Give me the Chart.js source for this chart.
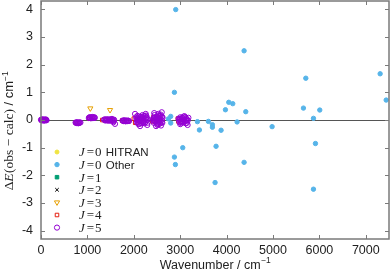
<!DOCTYPE html>
<html>
<head>
<meta charset="utf-8">
<script src="https://cdn.jsdelivr.net/npm/chart.js@4.4.1/dist/chart.umd.min.js"></script>
<style>
  html, body { margin: 0; padding: 0; background: #fff; }
  #wrap { width: 390px; height: 272px; }
</style>
</head>
<body>
<div id="wrap"><canvas id="chart" width="390" height="272"></canvas></div>
<script>
// axis ticks
const xTicks = [0, 1000, 2000, 3000, 4000, 5000, 6000, 7000];
const yTicks = [-4, -3, -2, -1, 0, 1, 2, 3, 4];

// J = 0 Other (blue dots)
const otherWn  = [2904, 2875, 2796, 2745, 2796, 3055, 2875, 2896, 3371, 3414, 3608, 3694, 3694, 3773, 3752, 3881,
                  3975, 4047, 4133, 4226, 4377, 4413, 4377, 4981, 5656, 5707, 5872, 5915, 5872, 6008, 7309, 7439];
const otherDev = [3.99, 1.00, 0.13, 0.04, -0.11, -1.00, -1.34, -1.61, -0.06, -0.36, -0.05, -0.17, -0.26, -0.95, -2.26, -0.37,
                  0.37, 0.64, 0.59, -0.07, 2.50, 0.30, -1.53, -0.24, 0.43, 1.51, 0.06, -0.85, -2.50, 0.36, 1.67, 0.72];

// J = 0 HITRAN (yellow, hidden under the clusters)
const hitranWn  = [1100, 2200, 2450, 3000];
const hitranDev = [0.08, 0.05, 0.00, 0.00];

// J = 1 (green)
const j1Wn  = [2100, 2500, 3050];
const j1Dev = [0.05, -0.05, 0.00];

// J = 2 (black)
const j2Wn  = [1800, 2150, 2550];
const j2Dev = [0.00, 0.00, 0.00];

// J = 3 (orange)
const j3Wn  = [1063, 1488, 2200, 2500];
const j3Dev = [0.42, 0.36, 0.00, 0.10];

// J = 4 (red)
const j4Wn  = [10, 750, 1040, 1320, 1750, 2000, 2030, 2400, 2420, 2950, 2960];
const j4Dev = [0.00, -0.10, 0.05, 0.00, -0.02, 0.05, -0.10, -0.05, 0.10, 0.05, -0.05];

// J = 5 (purple)
const j5Wn  = [0, 8, 15, 22, 30, 38, 45, 52, 60, 68, 75, 82, 90, 98, 105, 112, 120,
               745, 755, 765, 775, 785, 795, 805, 815, 825, 835, 850,
               1030, 1040, 1050, 1060, 1075, 1085, 1095, 1105, 1115, 1125, 1140, 1150, 1160,
               1360, 1370, 1385, 1395, 1410, 1420, 1430, 1445, 1455, 1470, 1480, 1495, 1505, 1520, 1530, 1545, 1555, 1570, 1575, 1595, 1560,
               1757, 1770, 1780, 1790, 1800, 1812, 1825, 1838, 1850, 1862, 1875, 1886, 1897,
               2050, 2065, 2080, 2100, 2115, 2135, 2150, 2170, 2190, 2210, 2230, 2257, 2270, 2290, 2300, 2027, 2135, 2200, 2240, 2080,
               2060, 2075, 2090, 2110, 2125, 2145, 2160, 2180, 2195, 2215, 2235, 2250, 2265, 2280, 2295, 2100, 2160, 2220, 2280, 2120,
               2415, 2430, 2450, 2470, 2490, 2510, 2530, 2550, 2570, 2587, 2602, 2620, 2440, 2480, 2520, 2560, 2600, 2460, 2540,
               2420, 2440, 2460, 2480, 2500, 2520, 2540, 2560, 2580, 2600, 2615, 2425, 2455, 2495, 2535, 2575, 2610, 2505, 2565,
               2965, 2985, 3005, 3025, 3050, 3075, 3100, 3125, 3145, 3160, 3177, 3162, 3000, 3090,
               2975, 2995, 3015, 3040, 3060, 3085, 3110, 3135, 3150, 3020, 3070, 3120];
const j5Dev = [0.01, 0.00, -0.01, 0.01, 0.02, -0.01, 0.00, 0.02, -0.02, 0.00, 0.01, -0.02, 0.00, 0.01, 0.02, 0.00, -0.01,
               -0.09, -0.10, -0.11, -0.09, -0.08, -0.11, -0.12, -0.10, -0.10, -0.09, -0.09,
               0.07, 0.09, 0.10, 0.08, 0.06, 0.10, 0.09, 0.07, 0.11, 0.08, 0.07, 0.10, 0.08,
               0.01, 0.02, -0.02, 0.00, 0.03, -0.01, 0.00, 0.02, -0.03, 0.01, 0.02, -0.02, -0.01, 0.02, 0.04, 0.00, -0.04, -0.02, 0.01, -0.14, -0.08,
               -0.02, -0.03, -0.04, -0.02, -0.01, -0.04, -0.05, -0.02, -0.03, -0.04, -0.02, -0.03, -0.04,
               0.10, -0.08, 0.15, -0.15, 0.05, -0.22, 0.12, -0.05, 0.18, 0.00, -0.12, 0.22, 0.08, -0.18, 0.02, 0.22, 0.00, -0.10, 0.14, -0.02,
               0.02, 0.08, -0.10, 0.12, -0.04, 0.06, -0.12, 0.10, -0.06, 0.14, 0.04, -0.08, 0.16, 0.00, -0.10, 0.00, 0.04, -0.06, 0.10, -0.14,
               0.05, -0.10, 0.18, -0.05, 0.12, -0.18, 0.22, 0.00, -0.12, -0.20, 0.28, 0.08, 0.25, -0.22, 0.10, 0.15, -0.08, -0.02, -0.15,
               0.00, 0.10, -0.06, 0.04, -0.10, 0.16, 0.06, -0.04, 0.14, 0.00, -0.10, -0.02, 0.08, 0.02, -0.06, 0.20, 0.12, -0.14, 0.04,
               0.05, -0.08, 0.10, -0.12, 0.02, 0.12, -0.05, 0.06, -0.10, -0.18, 0.08, -0.02, -0.15, 0.14,
               0.00, 0.04, -0.04, 0.08, -0.08, 0.00, 0.10, -0.02, 0.02, -0.06, 0.06, -0.12];

const pairs = (xs, ys) => xs.map((x, i) => ({ x: x, y: ys[i] }));

const FRAME = '#7a7a7a';
const series = [
  { label: 'HITRAN', wn: hitranWn, dev: hitranDev, color: '#F0E442', style: 'circle', r: 2, fill: true, order: 7 },
  { label: 'Other',  wn: otherWn,  dev: otherDev,  color: '#56B4E9', style: 'circle', r: 2.2, fill: true, order: 6 },
  { label: '1', wn: j1Wn, dev: j1Dev, color: '#009E73', style: 'rect', r: 2.5, fill: true, order: 5 },
  { label: '2', wn: j2Wn, dev: j2Dev, color: '#000000', style: 'crossRot', r: 2.5, fill: false, order: 4 },
  { label: '3', wn: j3Wn, dev: j3Dev, color: '#E69F00', style: 'triangle', r: 3, fill: false, order: 3, rot: 180 },
  { label: '4', wn: j4Wn, dev: j4Dev, color: '#E51E10', style: 'rect', r: 2.5, fill: false, order: 2 },
  { label: '5', wn: j5Wn, dev: j5Dev, color: '#9400D3', style: 'circle', r: 2.6, fill: false, order: 1 }
];

const datasets = series.map(s => ({
  label: s.label,
  data: pairs(s.wn, s.dev),
  order: s.order,
  clip: false,
  pointStyle: s.style,
  pointRadius: s.r,
  pointRotation: s.rot || 0,
  pointBorderWidth: 1,
  pointBorderColor: s.color,
  pointBackgroundColor: s.fill ? s.color : 'rgba(0,0,0,0)',
  showLine: false
}));

// frame, inward ticks, zero line, titles and legend
const decor = {
  id: 'decor',
  beforeDatasetsDraw(chart) {
    const ctx = chart.ctx, a = chart.chartArea;
    const ys = chart.scales.y;
    ctx.save();
    ctx.strokeStyle = '#555';
    ctx.lineWidth = 1;
    const y0 = Math.round(ys.getPixelForValue(0)) + 0.5;
    ctx.beginPath(); ctx.moveTo(a.left, y0); ctx.lineTo(a.right, y0); ctx.stroke();
    ctx.restore();
  },
  afterDraw(chart) {
    const ctx = chart.ctx, a = chart.chartArea;
    const xs = chart.scales.x, ys = chart.scales.y;
    ctx.save();
    ctx.strokeStyle = FRAME;
    ctx.lineWidth = 1.5;
    ctx.strokeRect(a.left, a.top, a.right - a.left, a.bottom - a.top);
    ctx.lineWidth = 1;
    ctx.beginPath();
    xTicks.forEach(v => {
      const p = Math.round(xs.getPixelForValue(v)) + 0.5;
      ctx.moveTo(p, a.bottom); ctx.lineTo(p, a.bottom - 4);
      ctx.moveTo(p, a.top); ctx.lineTo(p, a.top + 4);
    });
    yTicks.forEach(v => {
      const p = Math.round(ys.getPixelForValue(v)) + 0.5;
      ctx.moveTo(a.left, p); ctx.lineTo(a.left + 4, p);
      ctx.moveTo(a.right, p); ctx.lineTo(a.right - 4, p);
    });
    ctx.stroke();

    // x title
    ctx.fillStyle = '#222';
    ctx.textBaseline = 'alphabetic';
    const sans = '12.5px "Liberation Sans", Arial, sans-serif';
    const sup = '8.5px "Liberation Sans", Arial, sans-serif';
    const xt = 'Wavenumber / cm';
    ctx.font = sup; const wSup = ctx.measureText('\u22121').width;
    ctx.font = sans; const wXt = ctx.measureText(xt).width;
    const sx = (a.left + a.right) / 2 - (wXt + wSup) / 2;
    ctx.textAlign = 'left';
    ctx.fillText(xt, sx, 269);
    ctx.font = sup; ctx.fillText('\u22121', sx + wXt + 0.5, 263);

    // y title (rotated)
    const serif = '13px "Liberation Serif", "DejaVu Serif", serif';
    const serifIt = 'italic 13px "Liberation Serif", "DejaVu Serif", serif';
    const ySerif = '13.5px "Liberation Serif", "DejaVu Serif", serif';
    const ySerifIt = 'italic 13.5px "Liberation Serif", "DejaVu Serif", serif';
    const ySans = '13px "Liberation Sans", Arial, sans-serif';
    const parts = [
      { t: '\u0394', f: ySerif, dy: 0 },
      { t: 'E', f: ySerifIt, dy: 0 },
      { t: '(obs \u2212 calc)', f: ySerif, dy: 0 },
      { t: ' / cm', f: ySans, dy: 0 },
      { t: '\u22121', f: sup, dy: -5 }
    ];
    let total = 0;
    parts.forEach(p => { ctx.font = p.f; p.w = ctx.measureText(p.t).width; total += p.w; });
    ctx.translate(13, 131);
    ctx.rotate(-Math.PI / 2);
    let px = -total / 2;
    parts.forEach(p => { ctx.font = p.f; ctx.fillText(p.t, px, p.dy); px += p.w + (p.t === 'E' ? 0.5 : 0); });
    ctx.restore();

    // legend
    ctx.save();
    ctx.textBaseline = 'middle';
    ctx.textAlign = 'left';
    series.forEach((s, i) => {
      const ly = 152 + i * 12.6;
      ctx.fillStyle = s.fill ? s.color : 'rgba(0,0,0,0)';
      ctx.strokeStyle = s.color;
      ctx.lineWidth = 1;
      Chart.helpers.drawPoint(ctx, { pointStyle: s.style, radius: s.r, rotation: s.rot || 0, borderWidth: 1 }, 57, ly);
      ctx.fillStyle = '#222';
      let tx = 79;
      ctx.font = serifIt; ctx.fillText('J', tx, ly + 1); tx += ctx.measureText('J').width + 2;
      ctx.font = serif;
      const num = (i < 2) ? '0' : s.label;
      ctx.fillText('=', tx, ly + 1); tx += ctx.measureText('=').width + 1;
      ctx.fillText(num, tx, ly + 1); tx += ctx.measureText(num).width;
      if (i < 2) {
        ctx.font = '11.5px "Liberation Sans", Arial, sans-serif';
        ctx.fillText(' ' + s.label, tx + 1, ly + 1);
      }
    });
    ctx.restore();
  }
};

new Chart(document.getElementById('chart').getContext('2d'), {
  type: 'scatter',
  data: { datasets: datasets },
  options: {
    responsive: false,
    animation: false,
    layout: { autoPadding: false, padding: { top: 1, right: 1, left: 0, bottom: 0 } },
    plugins: { legend: { display: false }, tooltip: { enabled: false } },
    scales: {
      x: {
        type: 'linear', min: 0, max: 7500,
        afterBuildTicks: s => { s.ticks = xTicks.map(v => ({ value: v })); },
        afterFit: s => { s.height = 33; s.paddingLeft = 0; s.paddingRight = 0; },
        grid: { display: false, drawTicks: false },
        border: { display: false },
        ticks: { padding: 4, color: '#222', maxRotation: 0, font: { family: '"Liberation Sans", Arial, sans-serif', size: 12.5 },
                 callback: v => String(v) }
      },
      y: {
        type: 'linear', min: -4.3, max: 4.3,
        afterBuildTicks: s => { s.ticks = yTicks.map(v => ({ value: v })); },
        afterFit: s => { s.width = 41; s.paddingTop = 0; s.paddingBottom = 0; },
        grid: { display: false, drawTicks: false },
        border: { display: false },
        ticks: { padding: 8, color: '#222', font: { family: '"Liberation Sans", Arial, sans-serif', size: 12.5 },
                 callback: v => String(v) }
      }
    }
  },
  plugins: [decor]
});
</script>
</body>
</html>
